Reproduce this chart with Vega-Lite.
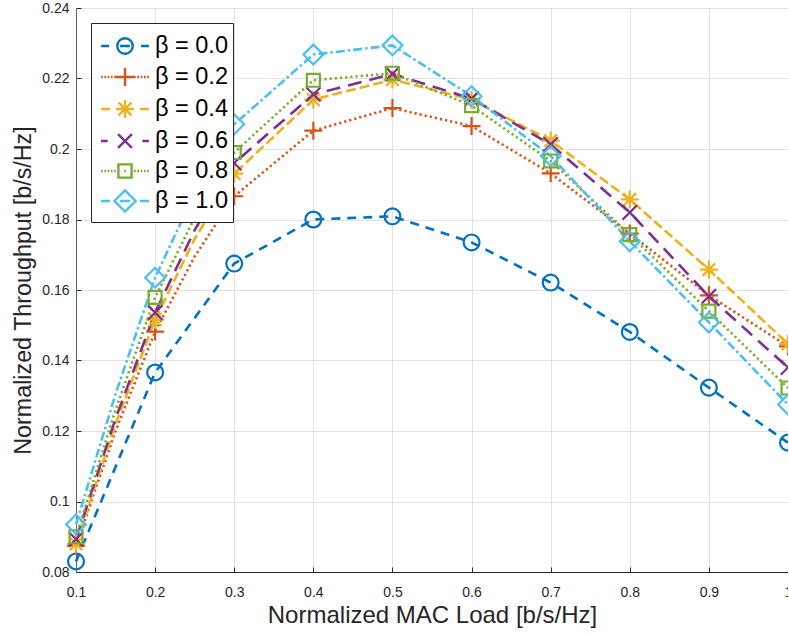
{
  "$schema": "https://vega.github.io/schema/vega-lite/v6.json",
  "width": 712,
  "height": 564,
  "autosize": {"type": "none"},
  "padding": {"left": 76, "top": 8, "right": 0, "bottom": 63},
  "background": "white",
  "config": {
    "view": {"stroke": null},
    "font": "Liberation Sans",
    "legend": {
      "orient": "top-left",
      "offset": 15,
      "title": null,
      "symbolSize": 1089,
      "symbolStrokeWidth": 2.4,
      "symbolOffset": 11,
      "labelFontSize": 23.5,
      "labelFont": "Liberation Sans",
      "labelColor": "#000000",
      "labelOffset": 12,
      "rowPadding": 0,
      "strokeColor": "#262626",
      "fillColor": "#ffffff",
      "padding": 5
    }
  },
  "data": {
    "values": [
      {"beta": "β = 0.0", "load": 0.1, "tp": 0.0830},
      {"beta": "β = 0.0", "load": 0.2, "tp": 0.1366},
      {"beta": "β = 0.0", "load": 0.3, "tp": 0.1675},
      {"beta": "β = 0.0", "load": 0.4, "tp": 0.1800},
      {"beta": "β = 0.0", "load": 0.5, "tp": 0.1809},
      {"beta": "β = 0.0", "load": 0.6, "tp": 0.1735},
      {"beta": "β = 0.0", "load": 0.7, "tp": 0.1621},
      {"beta": "β = 0.0", "load": 0.8, "tp": 0.1481},
      {"beta": "β = 0.0", "load": 0.9, "tp": 0.1323},
      {"beta": "β = 0.0", "load": 1.0, "tp": 0.1167},
      {"beta": "β = 0.2", "load": 0.1, "tp": 0.0875},
      {"beta": "β = 0.2", "load": 0.15, "tp": 0.1200},
      {"beta": "β = 0.2", "load": 0.2, "tp": 0.1482},
      {"beta": "β = 0.2", "load": 0.25, "tp": 0.1695},
      {"beta": "β = 0.2", "load": 0.3, "tp": 0.1866},
      {"beta": "β = 0.2", "load": 0.4, "tp": 0.2052},
      {"beta": "β = 0.2", "load": 0.5, "tp": 0.2116},
      {"beta": "β = 0.2", "load": 0.6, "tp": 0.2065},
      {"beta": "β = 0.2", "load": 0.7, "tp": 0.1931},
      {"beta": "β = 0.2", "load": 0.8, "tp": 0.1760},
      {"beta": "β = 0.2", "load": 0.9, "tp": 0.1585},
      {"beta": "β = 0.2", "load": 1.0, "tp": 0.1440},
      {"beta": "β = 0.4", "load": 0.1, "tp": 0.0880},
      {"beta": "β = 0.4", "load": 0.15, "tp": 0.1220},
      {"beta": "β = 0.4", "load": 0.2, "tp": 0.1516},
      {"beta": "β = 0.4", "load": 0.25, "tp": 0.1745},
      {"beta": "β = 0.4", "load": 0.3, "tp": 0.1930},
      {"beta": "β = 0.4", "load": 0.4, "tp": 0.2140},
      {"beta": "β = 0.4", "load": 0.5, "tp": 0.2197},
      {"beta": "β = 0.4", "load": 0.6, "tp": 0.2140},
      {"beta": "β = 0.4", "load": 0.7, "tp": 0.2024},
      {"beta": "β = 0.4", "load": 0.8, "tp": 0.1857},
      {"beta": "β = 0.4", "load": 0.9, "tp": 0.1658},
      {"beta": "β = 0.4", "load": 1.0, "tp": 0.1447},
      {"beta": "β = 0.6", "load": 0.1, "tp": 0.0893},
      {"beta": "β = 0.6", "load": 0.15, "tp": 0.1235},
      {"beta": "β = 0.6", "load": 0.2, "tp": 0.1536},
      {"beta": "β = 0.6", "load": 0.25, "tp": 0.1770},
      {"beta": "β = 0.6", "load": 0.3, "tp": 0.1960},
      {"beta": "β = 0.6", "load": 0.4, "tp": 0.2155},
      {"beta": "β = 0.6", "load": 0.5, "tp": 0.2213},
      {"beta": "β = 0.6", "load": 0.6, "tp": 0.2143},
      {"beta": "β = 0.6", "load": 0.7, "tp": 0.2013},
      {"beta": "β = 0.6", "load": 0.8, "tp": 0.1820},
      {"beta": "β = 0.6", "load": 0.9, "tp": 0.1582},
      {"beta": "β = 0.6", "load": 1.0, "tp": 0.1380},
      {"beta": "β = 0.8", "load": 0.1, "tp": 0.0900},
      {"beta": "β = 0.8", "load": 0.15, "tp": 0.1260},
      {"beta": "β = 0.8", "load": 0.2, "tp": 0.1579},
      {"beta": "β = 0.8", "load": 0.25, "tp": 0.1805},
      {"beta": "β = 0.8", "load": 0.3, "tp": 0.1990},
      {"beta": "β = 0.8", "load": 0.4, "tp": 0.2195},
      {"beta": "β = 0.8", "load": 0.5, "tp": 0.2215},
      {"beta": "β = 0.8", "load": 0.6, "tp": 0.2123},
      {"beta": "β = 0.8", "load": 0.7, "tp": 0.1966},
      {"beta": "β = 0.8", "load": 0.8, "tp": 0.1757},
      {"beta": "β = 0.8", "load": 0.9, "tp": 0.1540},
      {"beta": "β = 0.8", "load": 1.0, "tp": 0.1322},
      {"beta": "β = 1.0", "load": 0.1, "tp": 0.0935},
      {"beta": "β = 1.0", "load": 0.15, "tp": 0.1305},
      {"beta": "β = 1.0", "load": 0.2, "tp": 0.1635},
      {"beta": "β = 1.0", "load": 0.25, "tp": 0.1875},
      {"beta": "β = 1.0", "load": 0.3, "tp": 0.2070},
      {"beta": "β = 1.0", "load": 0.4, "tp": 0.2268},
      {"beta": "β = 1.0", "load": 0.5, "tp": 0.2294},
      {"beta": "β = 1.0", "load": 0.6, "tp": 0.2150},
      {"beta": "β = 1.0", "load": 0.7, "tp": 0.1980},
      {"beta": "β = 1.0", "load": 0.8, "tp": 0.1738},
      {"beta": "β = 1.0", "load": 0.9, "tp": 0.1508},
      {"beta": "β = 1.0", "load": 1.0, "tp": 0.1275}
    ]
  },
  "encoding": {
    "x": {
      "field": "load",
      "type": "quantitative",
      "scale": {"domain": [0.1, 1.0], "nice": false, "zero": false},
      "axis": {
        "values": [0.1, 0.2, 0.3, 0.4, 0.5, 0.6, 0.7, 0.8, 0.9, 1.0],
        "format": "~g",
        "title": "Normalized MAC Load [b/s/Hz]",
        "titleFont": "Liberation Sans",
        "titleFontSize": 24,
        "titleFontWeight": "normal",
        "titleColor": "#262626",
        "titlePadding": 4,
        "labelFont": "Liberation Sans",
        "labelFontSize": 14,
        "labelColor": "#262626",
        "labelPadding": 18,
        "labelFlush": false,
        "grid": true,
        "gridColor": "#e3e3e3",
        "gridWidth": 1,
        "domainColor": "#262626",
        "domainWidth": 1,
        "tickColor": "#262626",
        "tickSize": -5
      }
    },
    "y": {
      "field": "tp",
      "type": "quantitative",
      "scale": {"domain": [0.08, 0.24], "nice": false, "zero": false},
      "axis": {
        "values": [0.08, 0.1, 0.12, 0.14, 0.16, 0.18, 0.2, 0.22, 0.24],
        "format": "~g",
        "title": "Normalized Throughput [b/s/Hz]",
        "titleFont": "Liberation Sans",
        "titleFontSize": 23.3,
        "titleFontWeight": "normal",
        "titleColor": "#262626",
        "titlePadding": 6,
        "labelFont": "Liberation Sans",
        "labelFontSize": 14,
        "labelColor": "#262626",
        "labelPadding": 12,
        "labelFlush": false,
        "grid": true,
        "gridColor": "#e3e3e3",
        "gridWidth": 1,
        "domainColor": "#606060",
        "domainWidth": 1,
        "tickColor": "#262626",
        "tickSize": -5
      }
    }
  },
  "layer": [
    {
      "mark": {"type": "line", "strokeWidth": 2.6, "clip": false},
      "encoding": {
        "stroke": {
          "field": "beta",
          "type": "nominal",
          "scale": {
            "domain": ["β = 0.0", "β = 0.2", "β = 0.4", "β = 0.6", "β = 0.8", "β = 1.0"],
            "range": ["#0072BD", "#D95319", "#EDB120", "#7E2F8E", "#77AC30", "#4DBEEE"]
          },
          "legend": null
        },
        "strokeDash": {
          "field": "beta",
          "type": "nominal",
          "scale": {
            "domain": ["β = 0.0", "β = 0.2", "β = 0.4", "β = 0.6", "β = 0.8", "β = 1.0"],
            "range": [[9, 7], [2.2, 3], [10, 4], [14, 8], [2.2, 3], [9, 3, 2.5, 3]]
          },
          "legend": null
        },
        "order": {"field": "load", "type": "quantitative"}
      }
    },
    {
      "transform": [{"filter": "datum.beta == 'β = 0.0' && round(datum.load * 100) % 10 == 0"}],
      "mark": {"type": "point", "filled": false, "strokeWidth": 2.2, "size": 324, "opacity": 1, "clip": false,
               "shape": "M0.88,0A0.88,0.88,0,1,1,-0.88,0A0.88,0.88,0,1,1,0.88,0Z"},
      "encoding": {"stroke": {"field": "beta", "type": "nominal", "legend": null}}
    },
    {
      "transform": [{"filter": "datum.beta == 'β = 0.2' && round(datum.load * 100) % 10 == 0"}],
      "mark": {"type": "point", "filled": false, "strokeWidth": 2.2, "size": 324, "opacity": 1, "clip": false,
               "shape": "M-1,0L1,0M0,-1L0,1"},
      "encoding": {"stroke": {"field": "beta", "type": "nominal", "legend": null}}
    },
    {
      "transform": [{"filter": "datum.beta == 'β = 0.4' && round(datum.load * 100) % 10 == 0"}],
      "mark": {"type": "point", "filled": false, "strokeWidth": 2.2, "size": 324, "opacity": 1, "clip": false,
               "shape": "M-1,0L1,0M0,-1L0,1M-0.7,-0.7L0.7,0.7M-0.7,0.7L0.7,-0.7"},
      "encoding": {"stroke": {"field": "beta", "type": "nominal", "legend": null}}
    },
    {
      "transform": [{"filter": "datum.beta == 'β = 0.6' && round(datum.load * 100) % 10 == 0"}],
      "mark": {"type": "point", "filled": false, "strokeWidth": 2.2, "size": 324, "opacity": 1, "clip": false,
               "shape": "M-0.8,-0.8L0.8,0.8M-0.8,0.8L0.8,-0.8"},
      "encoding": {"stroke": {"field": "beta", "type": "nominal", "legend": null}}
    },
    {
      "transform": [{"filter": "datum.beta == 'β = 0.8' && round(datum.load * 100) % 10 == 0"}],
      "mark": {"type": "point", "filled": false, "strokeWidth": 2.2, "size": 324, "opacity": 1, "clip": false,
               "shape": "M-0.72,-0.72L0.72,-0.72L0.72,0.72L-0.72,0.72Z"},
      "encoding": {"stroke": {"field": "beta", "type": "nominal", "legend": null}}
    },
    {
      "transform": [{"filter": "datum.beta == 'β = 1.0' && round(datum.load * 100) % 10 == 0"}],
      "mark": {"type": "point", "filled": false, "strokeWidth": 2.2, "size": 324, "opacity": 1, "clip": false,
               "shape": "M0,-1.1L1.1,0L0,1.1L-1.1,0Z"},
      "encoding": {"stroke": {"field": "beta", "type": "nominal", "legend": null}}
    },
    {
      "transform": [{"filter": "datum.load < 0"}],
      "mark": {"type": "point", "filled": false, "opacity": 1, "color": {"expr": "scale('stroke', datum.value)"}},
      "encoding": {
        "shape": {
          "field": "beta",
          "type": "nominal",
          "scale": {
            "domain": ["β = 0.0", "β = 0.2", "β = 0.4", "β = 0.6", "β = 0.8", "β = 1.0"],
            "range": [
              "M-1.45,0L-0.97,0M0.97,0L1.45,0M-0.3,0L0.3,0M0.47,0A0.47,0.47,0,1,1,-0.47,0A0.47,0.47,0,1,1,0.47,0Z",
              "M-1.45,0L-1.35,0M-1.25,0L-1.15,0M-1.05,0L-0.95,0M-0.85,0L-0.75,0M-0.65,0L-0.55,0M-0.55,0L0.55,0M0,-0.55L0,0.55M0.55,0L0.65,0M0.75,0L0.85,0M0.95,0L1.05,0M1.15,0L1.25,0M1.35,0L1.45,0",
              "M-1.45,0L-0.9,0M0.9,0L1.45,0M-0.55,0L0.55,0M0,-0.55L0,0.55M-0.39,-0.39L0.39,0.39M-0.39,0.39L0.39,-0.39",
              "M-1.45,0L-1.05,0M1.05,0L1.45,0M-0.42,-0.42L0.42,0.42M-0.42,0.42L0.42,-0.42",
              "M-1.45,0L-1.35,0M-1.25,0L-1.15,0M-1.05,0L-0.95,0M-0.85,0L-0.75,0M-0.65,0L-0.55,0M-0.4,-0.4L0.4,-0.4L0.4,0.4L-0.4,0.4ZM-0.05,0L0.05,0M0.55,0L0.65,0M0.75,0L0.85,0M0.95,0L1.05,0M1.15,0L1.25,0M1.35,0L1.45,0",
              "M-1.45,0L-0.9,0M0.9,0L1.45,0M-0.3,0L0.3,0M0,-0.64L0.64,0L0,0.64L-0.64,0Z"
            ]
          },
          "legend": {
            "title": null,
            "symbolStrokeColor": {"expr": "scale('stroke', datum.value)"}
          }
        }
      }
    }
  ],
  "resolve": {"scale": {"shape": "independent"}}
}
